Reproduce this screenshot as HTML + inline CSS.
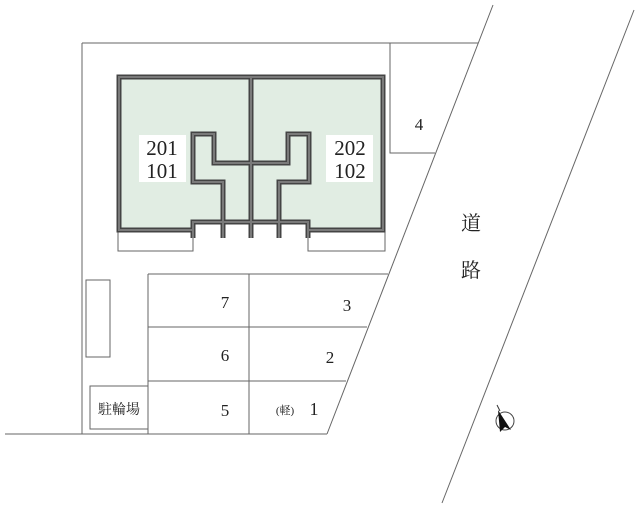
<!DOCTYPE html>
<html><head><meta charset="utf-8"><style>
html,body{margin:0;padding:0;background:#fff;}
svg{display:block;}
text{font-family:"Liberation Serif","Noto Serif CJK SC",serif;fill:#222;}
</style></head><body>
<svg width="640" height="508" viewBox="0 0 640 508" xmlns="http://www.w3.org/2000/svg">
<g stroke="#666" stroke-width="1" fill="none">
<line x1="82" y1="43" x2="478" y2="43"/>
<line x1="82" y1="43" x2="82" y2="434"/>
<line x1="5" y1="434" x2="327" y2="434"/>
<line x1="493" y1="5" x2="327" y2="434"/>
<line x1="634" y1="10" x2="442" y2="503"/>
<polyline points="390,43 390,153 435,153"/>
<line x1="148" y1="274" x2="388" y2="274"/>
<line x1="148" y1="327" x2="367" y2="327"/>
<line x1="148" y1="381" x2="346" y2="381"/>
<line x1="148" y1="274" x2="148" y2="434"/>
<line x1="249" y1="274" x2="249" y2="434"/>
<rect x="90" y="386" width="58" height="43"/>
<rect x="86" y="280" width="24" height="77"/>
<polyline points="118,232 118,251 193,251 193,238"/>
<polyline points="308,238 308,251 385,251 385,232"/>
</g>
<rect x="117" y="75" width="268" height="157" fill="#e1ede3"/>
<rect x="193" y="222" width="115" height="11" fill="#fff"/>
<g fill="none" stroke-linejoin="miter">
<g stroke="#444" stroke-width="5">
<polyline points="193,238 193,222 308,222 308,238"/>
<polyline points="193,230 119,230 119,77 383,77 383,230 308,230"/>
<line x1="251" y1="77" x2="251" y2="238"/>
<polyline points="251,163 214,163 214,134 193,134 193,182 223,182 223,238"/>
<polyline points="251,163 288,163 288,134 309,134 309,182 279,182 279,238"/>
</g>
<g stroke="#7a7a7a" stroke-width="2">
<polyline points="193,238 193,222 308,222 308,238"/>
<polyline points="193,230 119,230 119,77 383,77 383,230 308,230"/>
<line x1="251" y1="77" x2="251" y2="238"/>
<polyline points="251,163 214,163 214,134 193,134 193,182 223,182 223,238"/>
<polyline points="251,163 288,163 288,134 309,134 309,182 279,182 279,238"/>
</g>
</g>
<rect x="139" y="135" width="47" height="47" fill="#fff"/>
<rect x="326" y="135" width="47" height="47" fill="#fff"/>
<g font-size="21" text-anchor="middle">
<text x="162" y="155">201</text><text x="162" y="178">101</text>
<text x="350" y="155">202</text><text x="350" y="178">102</text>
</g>
<g font-size="17" text-anchor="middle">
<text x="419" y="130">4</text>
<text x="225" y="308">7</text><text x="347" y="311">3</text>
<text x="225" y="361">6</text><text x="330" y="363">2</text>
<text x="225" y="416">5</text><text x="314" y="415" font-size="18">1</text>
<text x="285" y="414" font-size="11">(軽)</text>
<text x="119" y="414" font-size="14">駐輪場</text>
<text x="471" y="230" font-size="20">道</text>
<text x="471" y="277" font-size="20">路</text>
</g>
<circle cx="505" cy="421" r="9" fill="none" stroke="#444" stroke-width="1"/>
<polygon points="498,410 511,430 505,427 500,432" fill="#111"/>
<line x1="497" y1="405" x2="500" y2="411" stroke="#333" stroke-width="1"/>
</svg>
</body></html>
